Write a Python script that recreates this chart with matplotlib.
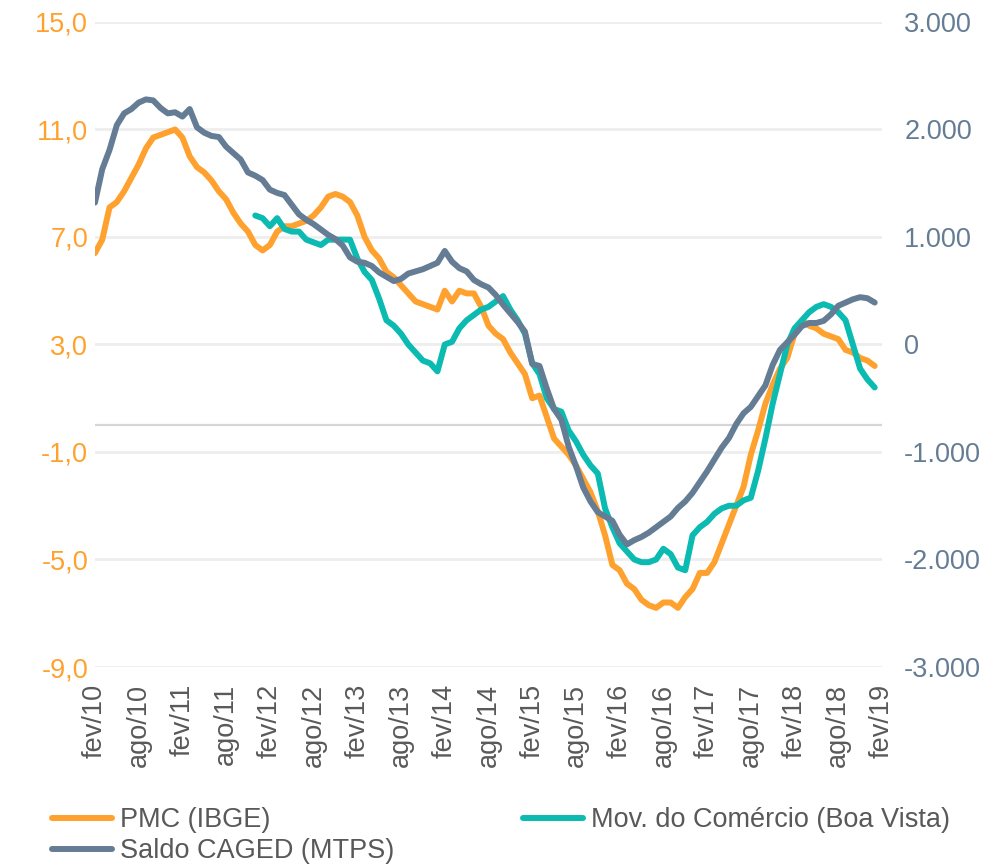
import numpy as np
import matplotlib

matplotlib.use("agg")
import matplotlib.pyplot as plt
import matplotlib.transforms as mtransforms

# monthly series, fev/10 .. jan/19
pmc = [6.4, 6.9, 8.1, 8.3, 8.7, 9.2, 9.7, 10.3, 10.7, 10.8,
       10.9, 11.0, 10.7, 10.0, 9.6, 9.4, 9.1, 8.7, 8.4, 7.9,
       7.5, 7.2, 6.7, 6.5, 6.7, 7.2, 7.4, 7.4, 7.5, 7.6,
       7.8, 8.1, 8.5, 8.6, 8.5, 8.3, 7.8, 7.0, 6.5, 6.2,
       5.7, 5.5, 5.2, 4.9, 4.6, 4.5, 4.4, 4.3, 5.0, 4.6,
       5.0, 4.9, 4.9, 4.4, 3.7, 3.4, 3.2, 2.7, 2.3, 1.9,
       1.0, 1.1, 0.3, -0.5, -0.8, -1.1, -1.5, -2.0, -2.5, -3.2,
       -4.1, -5.2, -5.4, -5.9, -6.1, -6.5, -6.7, -6.8, -6.6, -6.6,
       -6.8, -6.4, -6.1, -5.5, -5.5, -5.1, -4.4, -3.7, -3.0, -2.3,
       -1.1, -0.2, 0.8, 1.5, 2.1, 2.5, 3.4, 3.9, 3.7, 3.6,
       3.4, 3.3, 3.2, 2.8, 2.7, 2.5, 2.4, 2.2]

mov = [np.nan] * 22 + [
       7.8, 7.7, 7.4, 7.7, 7.3, 7.2, 7.2, 6.9,
       6.8, 6.7, 6.9, 6.9, 6.9, 6.9, 6.2, 5.7, 5.4, 4.7,
       3.9, 3.7, 3.4, 3.0, 2.7, 2.4, 2.3, 2.0, 3.0, 3.1,
       3.6, 3.9, 4.1, 4.3, 4.4, 4.6, 4.8, 4.3, 3.9, 3.4,
       2.3, 1.9, 1.0, 0.6, 0.5, -0.2, -0.6, -1.1, -1.5, -1.8,
       -3.1, -3.8, -4.4, -4.7, -5.0, -5.1, -5.1, -5.0, -4.6, -4.8,
       -5.3, -5.4, -4.1, -3.8, -3.6, -3.3, -3.1, -3.0, -3.0, -2.8,
       -2.7, -1.7, -0.5, 0.8, 1.9, 3.0, 3.6, 3.9, 4.2, 4.4,
       4.5, 4.4, 4.2, 3.9, 3.0, 2.1, 1.7, 1.4]

caged = [1320, 1630, 1810, 2040, 2150, 2190, 2250, 2280, 2270, 2200,
         2150, 2160, 2120, 2190, 2020, 1970, 1940, 1930, 1840, 1780,
         1720, 1600, 1570, 1530, 1440, 1410, 1390, 1300, 1210, 1160,
         1120, 1070, 1020, 980, 920, 810, 770, 760, 730, 670,
         630, 590, 610, 660, 680, 700, 730, 760, 870, 770,
         710, 680, 600, 560, 530, 460, 370, 290, 210, 120,
         -180, -200, -410, -600, -700, -950, -1130, -1330, -1460, -1560,
         -1600, -1640, -1770, -1860, -1820, -1790, -1750, -1700, -1650, -1600,
         -1520, -1460, -1380, -1280, -1180, -1070, -960, -870, -740, -640,
         -580, -480, -380, -190, -50, 20, 90, 170, 200, 200,
         220, 280, 360, 390, 420, 440, 430, 390]

xlabels = ["fev/10", "ago/10", "fev/11", "ago/11", "fev/12", "ago/12",
           "fev/13", "ago/13", "fev/14", "ago/14", "fev/15", "ago/15",
           "fev/16", "ago/16", "fev/17", "ago/17", "fev/18", "ago/18",
           "fev/19"]
left_ticks = [-9, -5, -1, 3, 7, 11, 15]
right_ticks = [-3000, -2000, -1000, 0, 1000, 2000, 3000]

c_pmc = "#FFA12E"
c_mov = "#0BBAB0"
c_caged = "#657C95"
c_text = "#595959"

plt.rcParams["font.family"] = ["Liberation Sans", "DejaVu Sans"]
fs = 19.5

fig = plt.figure(figsize=(10.08, 8.65), dpi=100)
ax = fig.add_axes([0.0942, 0.2289, 0.7808, 0.7457])
ax2 = ax.twinx()

x = np.arange(len(pmc))
l1, = ax.plot(x, pmc, color=c_pmc, lw=4.3, solid_capstyle="round",
              solid_joinstyle="round", zorder=3)
l2, = ax.plot(x, mov, color=c_mov, lw=4.3, solid_capstyle="round",
              solid_joinstyle="round", zorder=4)
l3, = ax2.plot(x, caged, color=c_caged, lw=4.3, solid_capstyle="round",
               solid_joinstyle="round", zorder=3)

ax.set_xlim(0, 108)
ax.set_ylim(-9, 15)
ax2.set_ylim(-3000, 3000)

ax.set_yticks(left_ticks)
ax.set_yticklabels([f"{v:.1f}".replace(".", ",") for v in left_ticks],
                   color=c_pmc, fontsize=fs)
ax2.set_yticks(right_ticks)
ax2.set_yticklabels([f"{v:,}".replace(",", ".") for v in right_ticks],
                    color=c_caged, fontsize=fs)
ax.set_xticks(np.arange(0, 109, 6))
ax.set_xticklabels(xlabels, rotation=90, color=c_text, fontsize=fs)
shift = mtransforms.ScaledTranslation(4 / 100, 0, fig.dpi_scale_trans)
for lab in ax.get_xticklabels():
    lab.set_transform(lab.get_transform() + shift)

ax.tick_params(axis="both", length=0)
ax.tick_params(axis="y", pad=5)
ax.tick_params(axis="x", pad=12)
ax2.tick_params(axis="y", length=0, pad=16)

ax.grid(axis="y", color="#EEEEEE", lw=2, zorder=0)
ax.axhline(0, color="#D6D6D6", lw=1.6, zorder=1)
for a in (ax, ax2):
    for s in a.spines.values():
        s.set_visible(False)

fig.legend(handles=[l1, l3, l2],
           labels=["PMC (IBGE)", "Saldo CAGED (MTPS)",
                   "Mov. do Comércio (Boa Vista)"],
           ncol=2, loc="upper left", bbox_to_anchor=(0.052, 0.067),
           frameon=False, fontsize=fs, handlelength=2.2, handletextpad=0.3,
           columnspacing=4.75, labelspacing=0.2, borderaxespad=0,
           borderpad=0, labelcolor=c_text)

fig.savefig("out.png", dpi=100)
